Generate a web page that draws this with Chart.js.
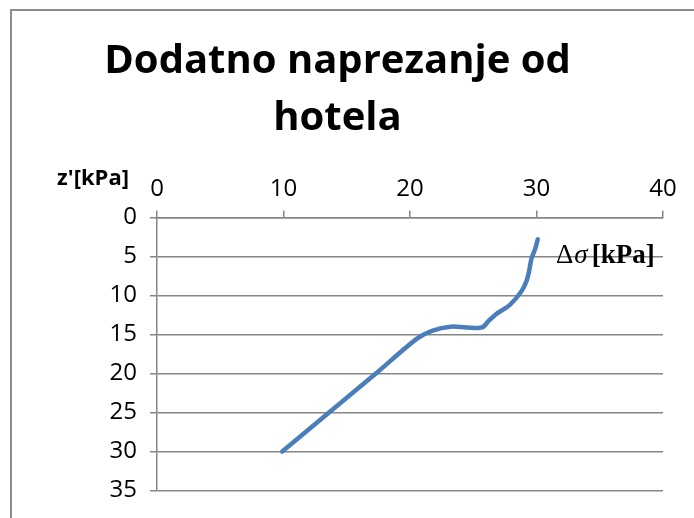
<!DOCTYPE html>
<html>
<head>
<meta charset="utf-8">
<script src="https://cdn.jsdelivr.net/npm/chart.js@4.4.0/dist/chart.umd.min.js"></script>
<style>
  html, body { margin: 0; padding: 0; background: #fff; overflow: hidden; }
  #wrap {
    position: absolute; left: 10px; top: 9px;
    width: 694px; height: 509px;
    border-left: 2px solid #8c8c8c; border-top: 2px solid #8c8c8c;
    box-sizing: border-box;
  }
</style>
</head>
<body>
<div id="wrap"><canvas id="chart" width="692" height="507"></canvas></div>
<script>
// Δσ [kPa] (x) vs depth z' (y)
var stressValues = [30.1, 29.9, 29.6, 29.4, 29.2, 28.8, 27.9, 26.8, 26.2, 25.7, 24.5, 23.2, 21.8, 20.5, 17.3, 13.6, 9.9];
var depthValues  = [2.8, 4.0, 5.3, 7.0, 8.2, 9.5, 11.2, 12.4, 13.3, 14.1, 14.1, 14.0, 14.5, 15.6, 20.0, 25.0, 30.0];
var xTicks = [0, 10, 20, 30, 40];
var yTicks = [0, 5, 10, 15, 20, 25, 30, 35];

var points = stressValues.map(function(v, i) { return { x: v, y: depthValues[i] }; });

// axis captions written on the canvas
var captionPlugin = {
  id: 'captions',
  afterDraw: function(chart) {
    var ctx = chart.ctx;
    ctx.save();
    ctx.fillStyle = '#000';
    ctx.textBaseline = 'alphabetic';
    ctx.textAlign = 'center';
    ctx.font = 'bold 22px "Open Sans"';
    ctx.fillText("z'[kPa]", 81, 174);

    ctx.textAlign = 'left';
    var x = 544, y = 252;
    ctx.font = '27px "Liberation Serif"';
    ctx.fillText('\u0394', x, y);
    x += ctx.measureText('\u0394').width + 1;
    ctx.font = 'italic 27px "Liberation Serif"';
    ctx.fillText('\u03c3', x, y);
    x += ctx.measureText('\u03c3').width + 4;
    ctx.font = 'bold 27px "Liberation Serif"';
    ctx.fillText('[kPa]', x, y);
    ctx.restore();
  }
};

new Chart(document.getElementById('chart'), {
  type: 'scatter',
  data: {
    datasets: [{
      label: 'Dodatno naprezanje',
      data: points,
      showLine: true,
      borderColor: '#4a7ebb',
      backgroundColor: '#4a7ebb',
      borderWidth: 4.5,
      borderCapStyle: 'round',
      pointRadius: 0,
      tension: 0.3
    }]
  },
  options: {
    responsive: false,
    animation: false,
    layout: { padding: { left: 0, right: 41, top: 0, bottom: 24 } },
    plugins: {
      legend: { display: false },
      tooltip: { enabled: false },
      title: {
        display: true,
        text: ['Dodatno naprezanje od', 'hotela'],
        color: '#000',
        font: { family: 'Open Sans', weight: 'bold', size: 40, lineHeight: 1.43 },
        padding: { top: 22, bottom: 0 }
      }
    },
    scales: {
      x: {
        type: 'linear',
        position: 'top',
        min: 0, max: 40,
        afterBuildTicks: function(scale) { scale.ticks = xTicks.map(function(v) { return { value: v }; }); },
        afterFit: function(scale) { scale.height = 70; },
        ticks: { color: '#000', font: { family: 'Open Sans', size: 24 }, padding: 7 },
        grid: { drawOnChartArea: false, drawTicks: true, tickLength: 7, color: '#868686', lineWidth: 1.5 },
        border: { display: true, color: '#868686', width: 1.5 }
      },
      y: {
        type: 'linear',
        reverse: true,
        min: 0, max: 35,
        afterBuildTicks: function(scale) { scale.ticks = yTicks.map(function(v) { return { value: v }; }); },
        afterFit: function(scale) { scale.width = 145; },
        ticks: { color: '#000', font: { family: 'Open Sans', size: 24 }, padding: 13 },
        grid: { color: '#868686', lineWidth: 1.5, tickLength: 7 },
        border: { display: true, color: '#868686', width: 1.5 }
      }
    }
  },
  plugins: [captionPlugin]
});
</script>
</body>
</html>
